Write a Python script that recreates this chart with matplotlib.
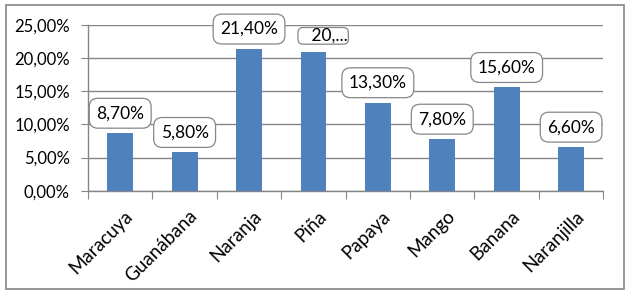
import matplotlib
matplotlib.use("Agg")
import matplotlib.pyplot as plt
import matplotlib.transforms as mtransforms
from matplotlib.patches import Rectangle
from matplotlib.ticker import FuncFormatter, MultipleLocator

categories = ["Maracuya", "Guanábana", "Naranja", "Piña", "Papaya", "Mango", "Banana", "Naranjilla"]
values = [8.70, 5.80, 21.40, 20.90, 13.30, 7.80, 15.60, 6.60]
labels = ["8,70%", "5,80%", "21,40%", "20,...", "13,30%", "7,80%", "15,60%", "6,60%"]

plt.rcParams['font.family'] = ['Lato', 'DejaVu Sans']

fig = plt.figure(figsize=(6.31, 2.96), dpi=100)
fig.patches.append(Rectangle((6.3/631, 1-289.3/296), (624.3-6.3)/631, (289.3-5)/296,
                             transform=fig.transFigure, fill=False, edgecolor='#868686', linewidth=1.2))
ax = fig.add_axes([88/631, 1-190.7/296, (603.3-88)/631, (190.7-25)/296])

x = list(range(len(categories)))
ax.bar(x, values, width=0.4, color='#4F81BD', zorder=3)
ax.set_xlim(-0.5, len(categories)-0.5)
ax.set_ylim(0, 25)
ax.yaxis.set_major_locator(MultipleLocator(5))
ax.yaxis.set_major_formatter(FuncFormatter(lambda v, p: f"{v:.2f}%".replace('.', ',')))
ax.grid(axis='y', color='#868686', linewidth=1.0, zorder=0)
for s in ['top', 'right']:
    ax.spines[s].set_visible(False)
for s in ['left', 'bottom']:
    ax.spines[s].set_color('#868686')
    ax.spines[s].set_linewidth(1.0)
ax.tick_params(axis='y', length=5, color='#868686', labelsize=12, pad=8)
ax.set_xticks([i - 0.5 for i in range(len(categories)+1)])
ax.set_xticklabels([])
ax.set_xticks(x, minor=True)
ax.set_xticklabels(categories, minor=True, rotation=45, ha='right', va='top',
                   rotation_mode='anchor', fontsize=13.5)
ax.tick_params(axis='x', which='major', length=6, color='#868686', direction='out')
ax.tick_params(axis='x', which='minor', length=0, pad=12)
shift = mtransforms.ScaledTranslation(4/100, 0, fig.dpi_scale_trans)
for t in ax.xaxis.get_minorticklabels():
    t.set_transform(t.get_transform() + shift)

for xi, v, lab in zip(x, values, labels):
    if lab.endswith('...'):
        ax.annotate('   ' + lab, (xi, v), xytext=(7, 6), textcoords='offset points',
                    ha='center', va='bottom', fontsize=12.5, zorder=5,
                    bbox=dict(boxstyle='round,pad=0.02,rounding_size=0.3', fc='white', ec='#868686', lw=0.9))
    else:
        ax.annotate(lab, (xi, v), xytext=(0, 8.5), textcoords='offset points',
                    ha='center', va='bottom', fontsize=12.5, zorder=5,
                    bbox=dict(boxstyle='round,pad=0.4,rounding_size=0.5', fc='white', ec='#868686', lw=0.9))

fig.savefig("out.png", dpi=100)
